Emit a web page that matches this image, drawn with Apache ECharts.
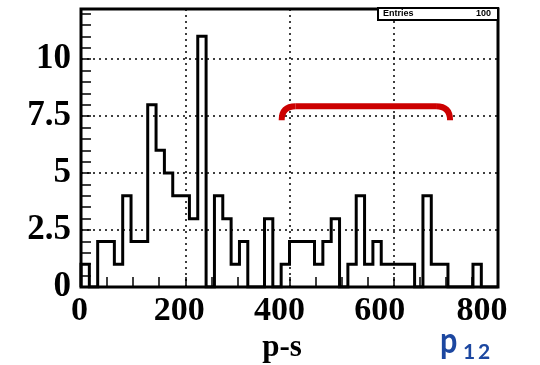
<!DOCTYPE html>
<html>
<head>
<meta charset="utf-8">
<script src="https://cdn.jsdelivr.net/npm/echarts@6/dist/echarts.min.js"></script>
<style>
html,body{margin:0;padding:0;background:#fff;}
#main{width:540px;height:365px;}
</style>
</head>
<body>
<div id="main"></div>
<script>
// Histogram: 50 bins of width 16 between 0 and 800
const binWidth = 16;
const xMin = 0;
const counts = [1,0,2,2,1,4,2,2,8,6,5,4,4,3,11,0,4,3,1,2,0,0,3,0,1,2,2,2,1,2,3,0,1,4,1,2,1,1,1,1,0,4,1,1,0,0,0,1,0,0];
const xTicks = [0,200,400,600,800];
const yTicks = [0,2.5,5,7.5,10];
const entries = 100;
// red bracket annotation (data coordinates)
const bracketX = [385, 708];
const bracketY = [7.32, 7.93];

// Build step outline from bin edges and counts
const outline = [[xMin, 0]];
counts.forEach((c, i) => {
  const lo = xMin + i * binWidth, hi = lo + binWidth;
  outline.push([lo, c]);
  outline.push([hi, c]);
});
outline.push([xMin + counts.length * binWidth, 0]);

const chart = echarts.init(document.getElementById('main'), null, {renderer: 'canvas'});
const serif = '"Liberation Serif", "Times New Roman", serif';
const lbl = {fontFamily: serif, fontWeight: 'bold', fontSize: 34, color: '#000'};
// label styles with slight leftward offsets (as in the reference)
const xRich = {
  l0: Object.assign({padding: [0, 3, 0, 0]}, lbl),
  l1: Object.assign({padding: [0, 12, 0, 0]}, lbl),
  l2: Object.assign({padding: [0, 20, 0, 0]}, lbl),
  l3: Object.assign({padding: [0, 28, 0, 0]}, lbl),
  l4: Object.assign({padding: [0, 32, 0, 0]}, lbl)
};

chart.setOption({
  animation: false,
  backgroundColor: '#fff',
  grid: {left: 81, right: 42, top: 9, bottom: 78, show: true, borderColor: '#000', borderWidth: 3, backgroundColor: 'transparent'},
  xAxis: {
    type: 'value', min: 0, max: 800, interval: 200,
    axisLine: {show: false},
    axisTick: {show: true, inside: true, length: 10, lineStyle: {color: '#000', width: 1.5}},
    minorTick: {show: true, splitNumber: 4, length: 10, lineStyle: {color: '#000', width: 1.5}},
    axisLabel: {show: true, margin: 7, fontFamily: serif, fontWeight: 'bold', fontSize: 34, color: '#000',
      rich: xRich,
      formatter: v => {
        const i = xTicks.indexOf(v);
        return i >= 0 ? `{l${i}|${v}}` : '';
      }},
    splitLine: {show: true, lineStyle: {color: '#000', type: [2, 4], width: 1.5}}
  },
  yAxis: {
    type: 'value', min: 0, max: 12.2, interval: 2.5,
    axisLine: {show: false},
    axisTick: {show: true, inside: true, length: 10, lineStyle: {color: '#000', width: 1.5}},
    minorTick: {show: true, splitNumber: 5, length: 10, lineStyle: {color: '#000', width: 1.5}},
    axisLabel: {show: true, margin: 10, fontFamily: serif, fontWeight: 'bold', fontSize: 35, color: '#000',
      showMaxLabel: false,
      formatter: v => yTicks.includes(v) ? String(v) : ''},
    splitLine: {show: true, lineStyle: {color: '#000', type: [2, 4], width: 1.5},
      showMaxLine: false}
  },
  series: [{
    type: 'line',
    data: outline,
    symbol: 'none',
    lineStyle: {color: '#000', width: 3, join: 'miter'},
    z: 5
  }]
});

function drawExtras() {
  const pL = chart.convertToPixel({gridIndex: 0}, [bracketX[0], bracketY[0]]);
  const pT = chart.convertToPixel({gridIndex: 0}, [bracketX[0], bracketY[1]]);
  const pR = chart.convertToPixel({gridIndex: 0}, [bracketX[1], bracketY[0]]);
  const r = 14;
  const xl = pL[0], xr = pR[0], yb = pL[1], yt = pT[1];
  const red = {stroke: '#cc0000', lineWidth: 6, fill: null};
  const blue = '#1c47a0';
  const sans = 'Lato, "DejaVu Sans", sans-serif';
  chart.setOption({
    graphic: [
      {type: 'bezierCurve', shape: {x1: xl, y1: yb, cpx1: xl, cpy1: yt, x2: xl + r, y2: yt}, style: red, z: 20},
      {type: 'line', shape: {x1: xl + r, y1: yt, x2: xr - r, y2: yt}, style: red, z: 20},
      {type: 'bezierCurve', shape: {x1: xr - r, y1: yt, cpx1: xr, cpy1: yt, x2: xr, y2: yb}, style: red, z: 20},
      {type: 'rect', shape: {x: 378, y: 8, width: 120, height: 12}, style: {fill: '#fff', stroke: '#000', lineWidth: 2}, z: 20},
      {type: 'text', left: 383, top: 9, style: {text: 'Entries', font: 'bold 9px "Liberation Sans", Arial, sans-serif', fill: '#000'}, z: 21},
      {type: 'text', left: 476, top: 9, style: {text: String(entries), font: 'bold 9px "Liberation Sans", Arial, sans-serif', fill: '#000'}, z: 21},
      {type: 'text', x: 282, y: 348, style: {text: 'p-s', font: 'bold 31px "Liberation Serif", serif', fill: '#000', align: 'center', verticalAlign: 'middle'}, z: 21},
      {type: 'text', x: 440, y: 341, scaleX: 0.85, style: {text: 'p', font: `bold 36px ${sans}`, fill: blue, align: 'left', verticalAlign: 'middle'}, z: 21},
      {type: 'text', x: 463, y: 352, style: {text: '1', font: `bold 21px ${sans}`, fill: blue, align: 'left', verticalAlign: 'middle'}, z: 21},
      {type: 'text', x: 478, y: 352, style: {text: '2', font: `bold 21px ${sans}`, fill: blue, align: 'left', verticalAlign: 'middle'}, z: 21}
    ]
  });
}
drawExtras();
</script>
</body>
</html>
